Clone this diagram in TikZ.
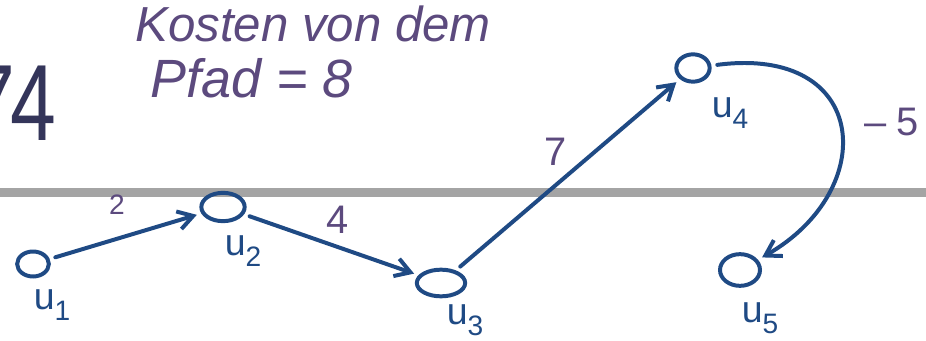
\documentclass[tikz,border=0pt]{standalone}
\usepackage{fontspec}
\setmainfont{Liberation Sans}
\usetikzlibrary{arrows.meta,positioning,shapes.geometric}
\definecolor{Ink}{HTML}{1F4A84}
\definecolor{Plum}{HTML}{5C4A7E}
\definecolor{Slate}{HTML}{34355A}
\definecolor{Rule}{HTML}{A4A4A4}
\newcommand\vsub[1]{\raisebox{-.3em}{\fontsize{24}{24}\selectfont #1}}
\tikzset{
 vtx/.style={ellipse,draw=Ink,line width=3.4pt,minimum width=1.15cm,minimum height=0.85cm,inner sep=0pt},
 vlab/.style={text=Ink,font=\fontsize{32}{32}\selectfont,inner sep=0pt},
 wlab/.style={text=Plum,font=\fontsize{34}{34}\selectfont,inner sep=0pt},
 note/.style={text=Plum,font=\itshape\fontsize{42}{42}\selectfont,inner sep=0pt,anchor=base west},
 arr/.style={-{Straight Barb[length=4.5mm,width=5.5mm]},line width=3.4pt,draw=Ink,line cap=round,shorten <=5pt,shorten >=4pt}
}
\begin{document}
\begin{tikzpicture}[x=0.03cm,y=-0.03cm]
\useasboundingbox (0,0) rectangle (926,341);
% slide rule and page number
\draw[Rule,line width=0.27cm] (0,192) -- (926,192);
\node[anchor=base east,text=Slate,font=\fontsize{74}{74}\selectfont,inner sep=0pt] (page) at (56,140) {\scalebox{0.95}[1.25]{7\kern-.06em4}};
% handwritten note
\node[note] (cost) at (135,42) {Kosten von dem};
\node[note,font=\itshape\fontsize{46}{46}\selectfont] (path) at (150,98) {Pfad = 8};
% vertices
\node[vtx,minimum width=0.95cm,minimum height=0.75cm] (u1) at (33,264) {};
\node[vtx,minimum width=1.3cm] (u2) at (223,207) {};
\node[vtx,minimum width=1.45cm,minimum height=0.8cm] (u3) at (441,283) {};
\node[vtx,minimum width=1.0cm,minimum height=0.82cm] (u4) at (693,68) {};
\node[vtx,minimum width=1.2cm,minimum height=0.95cm] (u5) at (740,270) {};
\node[vlab] (l1) at (52,305) {u\vsub{1}};
\node[vlab] (l2) at (243,251) {u\vsub{2}};
\node[vlab] (l3) at (465,320) {u\vsub{3}};
\node[vlab] (l4) at (730,113) {u\vsub{4}};
\node[vlab] (l5) at (760,318) {u\vsub{5}};
% weights
\node[wlab,font=\fontsize{24}{24}\selectfont] (w12) at (117,205) {2};
\node[wlab] (w23) at (338,220) {4};
\node[wlab] (w34) at (556,152) {7};
\node[wlab] (w45) at (892,122) {–\hspace{0.25em}5};
% edges
\foreach \x/\y in {u1/u2,u2/u3,u3/u4} \draw[arr] (\x)--(\y);
\draw[arr] (u4) .. controls (870,45) and (880,190) .. (u5);
\end{tikzpicture}
\end{document}
